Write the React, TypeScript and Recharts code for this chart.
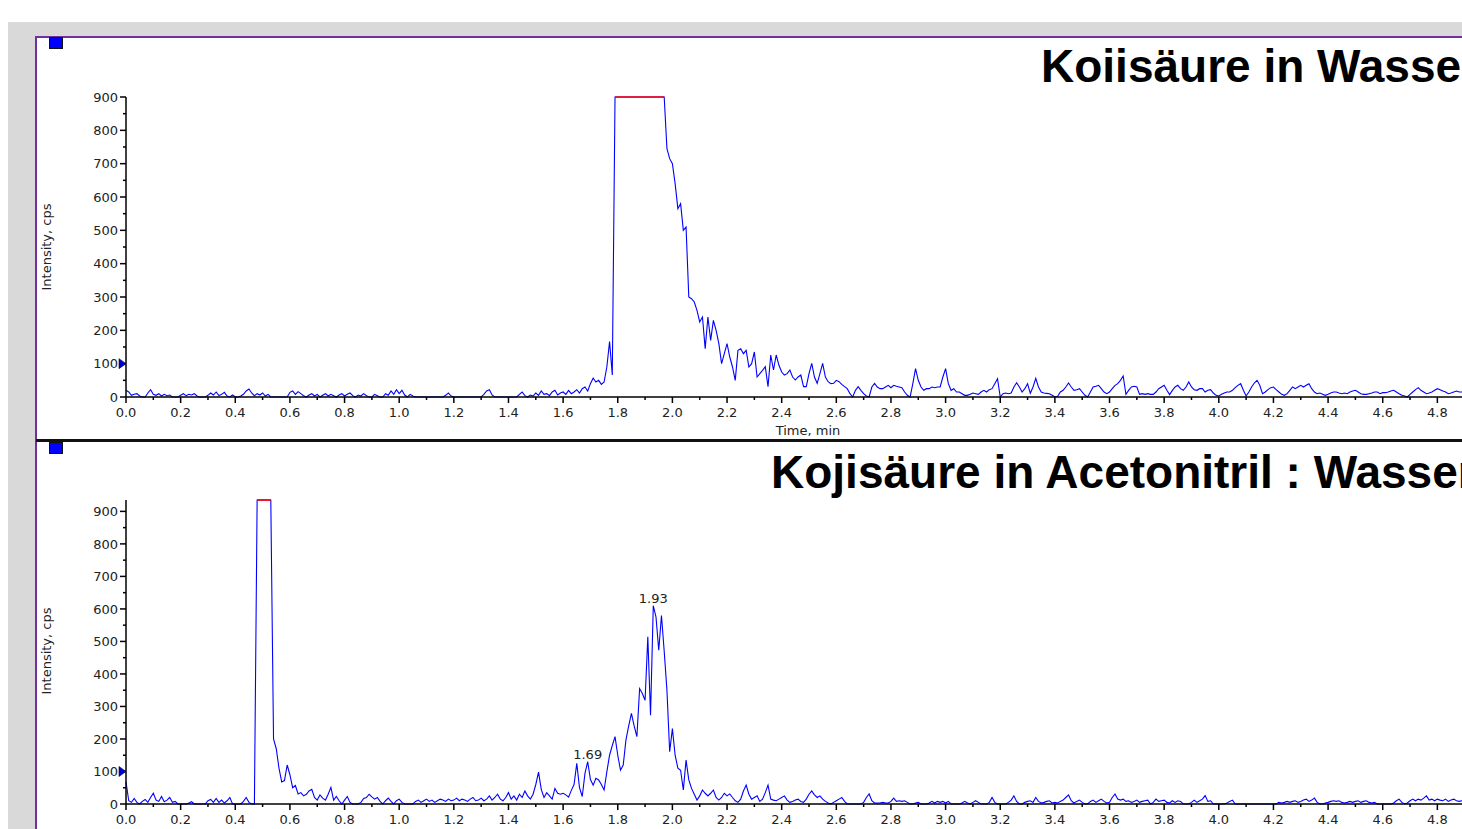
import { Line, LineChart, ReferenceDot, XAxis, YAxis } from "recharts"

// one sample every 0.01 min, starting at 0.00 min
const SAMPLE_STEP_MIN = 0.01

// Kojisäure in Wasser, intensity in cps (detector saturates at 900)
const topIntensity = [
  20, 15, 5, 8, 10, 3, 0, 0, 12, 22, 8, 5, 10, 3, 8, 4, 6, 0, 0, 0,
  5, 10, 4, 8, 6, 10, 3, 0, 0, 0, 5, 12, 6, 15, 4, 8, 14, 3, 0, 6,
  0, 0, 3, 8, 18, 24, 12, 4, 10, 6, 12, 3, 8, 0, 0, 0, 0, 0, 0, 0,
  14, 18, 8, 16, 10, 4, 0, 6, 10, 3, 8, 0, 5, 10, 3, 8, 4, 0, 6, 10,
  3, 8, 12, 4, 0, 6, 3, 10, 4, 0, 0, 8, 4, 0, 0, 10, 5, 18, 8, 22,
  10, 20, 6, 0, 8, 3, 0, 0, 0, 0, 0, 0, 0, 0, 0, 0, 0, 5, 12, 3,
  0, 0, 0, 0, 0, 0, 0, 0, 0, 0, 0, 8, 18, 22, 6, 0, 0, 0, 0, 0,
  0, 0, 0, 0, 8, 15, 4, 0, 6, 3, 12, 5, 18, 8, 10, 4, 15, 20, 6, 12,
  15, 8, 20, 10, 15, 22, 12, 25, 30, 18, 40, 57, 45, 50, 38, 45, 90, 166, 66, 900,
  900, 900, 900, 900, 900, 900, 900, 900, 900, 900, 900, 900, 900, 900, 900, 900, 900, 900, 745, 715,
  700, 640, 565, 580, 500, 510, 300, 295, 285, 260, 225, 240, 145, 240, 170, 230, 200, 160, 100, 130,
  160, 120, 90, 50, 140, 145, 130, 140, 90, 100, 135, 60, 70, 80, 91, 31, 126, 81, 126, 95,
  75, 66, 70, 81, 60, 51, 60, 66, 31, 31, 70, 101, 60, 41, 70, 101, 60, 46, 40, 41,
  50, 46, 38, 31, 25, 10, 0, 20, 31, 20, 10, 3, 0, 30, 41, 30, 25, 25, 30, 35,
  28, 35, 32, 30, 28, 15, 5, 0, 40, 85, 50, 30, 20, 25, 25, 30, 28, 30, 30, 60,
  85, 40, 20, 25, 15, 15, 10, 5, 5, 8, 12, 10, 8, 15, 20, 15, 22, 25, 40, 55,
  0, 10, 12, 10, 12, 30, 43, 30, 15, 25, 40, 11, 30, 56, 30, 15, 12, 11, 10, 5,
  0, 2, 15, 20, 30, 42, 30, 20, 22, 25, 15, 5, 0, 15, 30, 32, 35, 25, 15, 10,
  15, 25, 35, 40, 50, 63, 8, 20, 30, 32, 30, 8, 10, 8, 10, 8, 8, 15, 25, 30,
  35, 20, 7, 20, 30, 35, 25, 20, 30, 45, 30, 22, 20, 25, 25, 15, 20, 22, 12, 5,
  3, 8, 12, 15, 15, 20, 28, 35, 40, 20, 3, 15, 30, 42, 50, 35, 10, 15, 22, 28,
  30, 22, 15, 8, 5, 10, 20, 30, 25, 30, 35, 30, 35, 40, 25, 15, 10, 12, 8, 5,
  8, 12, 15, 15, 12, 10, 12, 10, 15, 18, 20, 15, 10, 8, 8, 10, 12, 15, 15, 10,
  13, 13, 15, 18, 20, 15, 10, 5, 3, 0, 8, 15, 22, 28, 20, 15, 10, 12, 15, 20,
  25, 22, 18, 15, 10, 12, 15, 18, 15, 15, 12, 10, 15, 12, 10, 8, 10, 12, 10, 8,
  10,
]

// Kojisäure in Acetonitril : Wasser (detector saturates at 935)
const bottomIntensity = [
  68, 10, 5, 17, 5, 0, 8, 14, 5, 20, 33, 12, 8, 23, 7, 12, 20, 5, 8, 0,
  0, 0, 0, 3, 7, 0, 0, 0, 0, 0, 10, 14, 5, 17, 5, 12, 3, 10, 20, 0,
  0, 0, 0, 8, 20, 5, 0, 0, 935, 935, 935, 935, 935, 935, 200, 170, 110, 68, 72, 120,
  90, 50, 57, 31, 35, 25, 30, 40, 45, 20, 12, 28, 18, 12, 30, 51, 12, 23, 10, 0,
  12, 23, 5, 0, 0, 0, 5, 17, 20, 30, 22, 15, 20, 8, 0, 10, 18, 8, 0, 10,
  15, 5, 0, 0, 0, 0, 8, 12, 5, 10, 15, 8, 12, 5, 10, 15, 12, 8, 15, 10,
  12, 18, 10, 15, 12, 8, 15, 20, 10, 12, 18, 10, 15, 25, 12, 20, 30, 15, 10, 20,
  35, 15, 25, 12, 30, 20, 40, 25, 15, 30, 60, 98, 45, 20, 35, 25, 15, 48, 33, 30,
  33, 28, 21, 42, 60, 125, 50, 23, 94, 130, 75, 58, 79, 74, 60, 43, 99, 150, 180, 207,
  150, 104, 120, 197, 240, 279, 240, 207, 355, 340, 319, 514, 273, 610, 575, 473, 580, 470, 350, 161,
  232, 150, 110, 104, 43, 135, 74, 48, 30, 12, 25, 43, 33, 25, 33, 43, 20, 12, 20, 33,
  25, 31, 20, 10, 5, 15, 40, 58, 30, 15, 20, 25, 8, 15, 35, 58, 15, 12, 10, 15,
  20, 25, 12, 5, 8, 12, 15, 8, 5, 15, 30, 40, 28, 20, 25, 15, 8, 3, 0, 5,
  10, 15, 20, 8, 0, 0, 0, 0, 0, 0, 5, 20, 31, 10, 3, 3, 3, 5, 3, 3,
  8, 18, 8, 10, 8, 10, 5, 0, 0, 3, 5, 0, 0, 0, 3, 8, 3, 8, 5, 8,
  3, 8, 0, 0, 0, 0, 3, 8, 3, 0, 5, 10, 5, 0, 0, 0, 5, 20, 5, 0,
  0, 0, 0, 5, 12, 25, 8, 0, 0, 5, 8, 10, 5, 20, 8, 3, 5, 8, 10, 3,
  5, 3, 8, 12, 20, 28, 10, 3, 8, 12, 5, 0, 0, 8, 12, 5, 10, 15, 8, 3,
  5, 20, 31, 15, 12, 15, 8, 10, 5, 8, 12, 5, 8, 10, 12, 0, 5, 15, 8, 10,
  12, 5, 3, 10, 5, 10, 8, 0, 0, 0, 5, 12, 5, 10, 15, 26, 8, 10, 0, 0,
  0, 0, 0, 3, 8, 12, 0, 0, 0, 0, 0, 0, 0, 0, 0, 0, 0, 0, 0, 0,
  0, 0, 5, 3, 5, 8, 5, 8, 10, 5, 8, 12, 15, 8, 12, 18, 5, 0, 0, 3,
  5, 8, 10, 8, 10, 5, 3, 5, 8, 5, 8, 10, 5, 8, 10, 5, 3, 5, 0, 0,
  0, 0, 0, 0, 3, 10, 15, 5, 0, 3, 10, 15, 10, 15, 12, 18, 25, 12, 15, 10,
  15, 12, 10, 15, 8, 12, 15, 10, 8, 10, 12, 8, 10, 12, 8, 10, 8, 10, 12, 8,
  10,
]

const TOP_MAX = 900
const BOTTOM_MAX = 935

const xMajorTicks = [
  0, 0.2, 0.4, 0.6, 0.8, 1.0, 1.2, 1.4, 1.6, 1.8, 2.0, 2.2, 2.4,
  2.6, 2.8, 3.0, 3.2, 3.4, 3.6, 3.8, 4.0, 4.2, 4.4, 4.6, 4.8, 5.0,
]
const xMinorTicks = [
  0.1, 0.3, 0.5, 0.7, 0.9, 1.1, 1.3, 1.5, 1.7, 1.9, 2.1, 2.3, 2.5,
  2.7, 2.9, 3.1, 3.3, 3.5, 3.7, 3.9, 4.1, 4.3, 4.5, 4.7, 4.9,
]
const yMajorTicks = [0, 100, 200, 300, 400, 500, 600, 700, 800, 900]
const yMinorTicks = [50, 150, 250, 350, 450, 550, 650, 750, 850]

const bottomPeakLabels = ["1.69", "1.93"]

const TEXT = "#222"
const TICK_FONT = "DejaVu Sans, Verdana, sans-serif"
const TITLE_FONT = "Liberation Sans, Arial, sans-serif"

interface Row {
  t: number
  v: number
  sat: number | null
}

function buildRows(values: number[], cap: number): Row[] {
  return values.map((v, i) => ({
    t: Number((i * SAMPLE_STEP_MIN).toFixed(2)),
    v,
    sat: v >= cap ? v : null,
  }))
}

const topRows = buildRows(topIntensity, TOP_MAX)
const bottomRows = buildRows(bottomIntensity, BOTTOM_MAX)

const xTicks = [...xMajorTicks, ...xMinorTicks].sort((a, b) => a - b)
const yTicks = [...yMajorTicks, ...yMinorTicks].sort((a, b) => a - b)

function XTick(props: any) {
  const { x, y, payload } = props
  const value = payload.value as number
  const major = xMajorTicks.includes(value)
  return (
    <g>
      <line x1={x} x2={x} y1={y} y2={y + (major ? 6 : 3)} stroke="#000" strokeWidth={1.5} />
      {major && (
        <text x={x} y={y + 20} textAnchor="middle" fontSize={13} fontFamily={TICK_FONT} fill={TEXT}>
          {value.toFixed(1)}
        </text>
      )}
    </g>
  )
}

function YTick(props: any) {
  const { x, y, payload } = props
  const value = payload.value as number
  const major = yMajorTicks.includes(value)
  return (
    <g>
      <line x1={x - (major ? 6 : 3)} x2={x} y1={y} y2={y} stroke="#000" strokeWidth={1.5} />
      {major && (
        <text x={x - 8} y={y} dy="0.36em" textAnchor="end" fontSize={13} fontFamily={TICK_FONT} fill={TEXT}>
          {value}
        </text>
      )}
      {value === 100 && (
        <polygon
          points={`${x - 7},${y - 5} ${x},${y} ${x - 7},${y + 5}`}
          fill="#0000cc"
          stroke="#000033"
          strokeWidth={0.6}
        />
      )}
    </g>
  )
}

interface ChromatogramProps {
  rows: Row[]
  yMax: number
  height: number
  marginTop: number
  peaks?: string[]
}

function Chromatogram({ rows, yMax, height, marginTop, peaks = [] }: ChromatogramProps) {
  return (
    <LineChart width={1500} height={height} data={rows} margin={{ top: marginTop, right: 16, bottom: 0, left: 0 }}>
      <XAxis
        type="number"
        dataKey="t"
        domain={[0, 5]}
        ticks={xTicks}
        interval={0}
        height={43}
        tickSize={0}
        tickMargin={0}
        tickLine={false}
        axisLine={{ stroke: "#000", strokeWidth: 1.5 }}
        tick={XTick}
      />
      <YAxis
        type="number"
        domain={[0, yMax]}
        ticks={yTicks}
        interval={0}
        width={118}
        tickSize={0}
        tickMargin={0}
        tickLine={false}
        axisLine={{ stroke: "#000", strokeWidth: 1.5 }}
        tick={YTick}
      />
      <Line
        type="linear"
        dataKey="v"
        stroke="#0000ff"
        strokeWidth={1.1}
        dot={false}
        isAnimationActive={false}
      />
      <Line
        type="linear"
        dataKey="sat"
        stroke="#ff0000"
        strokeWidth={1.6}
        dot={false}
        connectNulls={false}
        isAnimationActive={false}
      />
      {peaks.map((label) => {
        const row = rows.find((r) => r.t === Number(label))
        return (
          <ReferenceDot
            key={label}
            x={Number(label)}
            y={row ? row.v : 0}
            r={0}
            label={{ value: label, position: "top", offset: 3, fontSize: 13, fontFamily: TICK_FONT, fill: TEXT }}
          />
        )
      })}
    </LineChart>
  )
}

export default function App() {
  return (
    <div
      style={{
        position: "fixed",
        left: 8,
        top: 22,
        width: 1454,
        height: 807,
        background: "#d9d9d9",
        overflow: "hidden",
      }}
    >
      <div
        style={{
          position: "absolute",
          left: 27,
          top: 14,
          right: 0,
          bottom: 0,
          background: "#fff",
          borderLeft: "2px solid #7030a0",
          borderTop: "2px solid #7030a0",
        }}
      />
      <div style={{ position: "absolute", left: 0, top: 14 }}>
        <Chromatogram rows={topRows} yMax={TOP_MAX} height={404} marginTop={61} />
      </div>
      <div style={{ position: "absolute", left: 0, top: 420 }}>
        <Chromatogram rows={bottomRows} yMax={BOTTOM_MAX} height={405} marginTop={58} peaks={bottomPeakLabels} />
      </div>
      <div style={{ position: "absolute", left: 28, right: 0, top: 417, height: 3, background: "#111" }} />
      <div style={{ position: "absolute", left: 41, top: 15, width: 12, height: 10, background: "#0000ff", border: "1px solid #111" }} />
      <div style={{ position: "absolute", left: 41, top: 420, width: 12, height: 10, background: "#0000ff", border: "1px solid #111" }} />
      <svg width={1454} height={807} style={{ position: "absolute", left: 0, top: 0, pointerEvents: "none" }}>
        <text x={1033} y={60} fontSize={46} fontWeight="bold" fontFamily={TITLE_FONT} fill="#000">
          Koiisäure in Wasser
        </text>
        <text x={763} y={466} fontSize={46} fontWeight="bold" fontFamily={TITLE_FONT} fill="#000">
          Kojisäure in Acetonitril : Wasser
        </text>
        <text x={800} y={413} textAnchor="middle" fontSize={13} fontFamily={TICK_FONT} fill={TEXT}>
          Time, min
        </text>
        <text
          x={38}
          y={225}
          transform="rotate(-90 38 225)"
          textAnchor="middle"
          dy="0.35em"
          fontSize={13}
          fontFamily={TICK_FONT}
          fill={TEXT}
        >
          Intensity, cps
        </text>
        <text
          x={38}
          y={629}
          transform="rotate(-90 38 629)"
          textAnchor="middle"
          dy="0.35em"
          fontSize={13}
          fontFamily={TICK_FONT}
          fill={TEXT}
        >
          Intensity, cps
        </text>
      </svg>
    </div>
  )
}
